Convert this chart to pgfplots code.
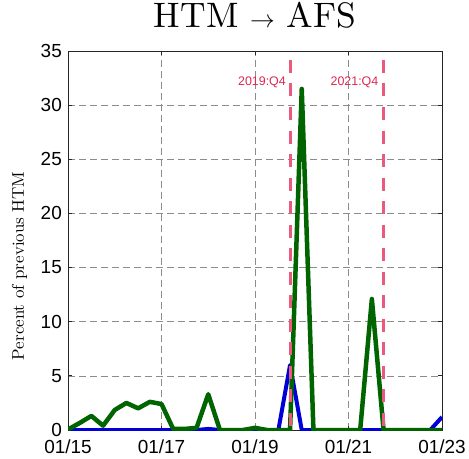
\documentclass[border=0pt]{standalone}
\usepackage{fontspec}
\usepackage{pgfplots}
\pgfplotsset{compat=1.18}
\usetikzlibrary{calc}
\newfontfamily\helv{Liberation Sans}
\newfontfamily\lmten{lmroman10-regular}[Extension=.otf]
\definecolor{mblue}{RGB}{0,0,215}
\definecolor{mgreen}{RGB}{0,100,0}
\definecolor{rline}{RGB}{235,90,125}
\definecolor{rtext}{RGB}{220,40,80}
\begin{document}
\begin{tikzpicture}
\begin{axis}[
  scale only axis, width=374bp, height=379bp,
  xmin=2015, xmax=2023, ymin=0, ymax=35,
  xtick={2015,2017,2019,2021,2023},
  xticklabels={01/15,01/17,01/19,01/21,01/23},
  ytick={0,5,10,15,20,25,30,35},
  tick align=inside, tick pos=both,
  xticklabel pos=bottom, yticklabel pos=left,
  major tick length=4bp,
  grid=major,
  grid style={dash pattern=on 7bp off 4bp, black!45, line width=0.6bp},
  axis line style={black!85, line width=0.8bp},
  tick style={black!85, line width=0.8bp},
  /pgf/number format/assume math mode=true,
  ticklabel style={font=\helv\fontsize{19}{19}\selectfont, inner sep=0pt},
  xticklabel style={yshift=-10bp},
  yticklabel style={xshift=-6bp},
  title={HTM $\rightarrow$ AFS},
  title style={font=\lmten\fontsize{35.5}{35.5}\selectfont, inner sep=0pt, at={(0.5,1)}, anchor=base, yshift=18bp},
  ylabel={Percent of previous HTM},
  ylabel style={font=\lmten\fontsize{17}{17}\selectfont, at={(axis description cs:-0.1297,0.433)}, anchor=center},
]
\addplot[mblue, line width=4bp, line join=round] coordinates {
(2015.00,0) (2015.25,0) (2015.50,0) (2015.75,0) (2016.00,0) (2016.25,0) (2016.50,0) (2016.75,0)
(2017.00,0) (2017.25,0) (2017.50,0) (2017.75,0) (2018.00,0.1) (2018.25,0) (2018.50,0) (2018.75,0)
(2019.00,0.05) (2019.25,0) (2019.50,0) (2019.75,6.0) (2020.00,0) (2020.25,0) (2020.50,0) (2020.75,0)
(2021.00,0) (2021.25,0) (2021.50,0) (2021.75,0) (2022.00,0) (2022.25,0) (2022.50,0) (2022.75,0)
(2023.00,1.2)
};
\addplot[mgreen, line width=4.5bp, line join=round] coordinates {
(2015.00,0.05) (2015.25,0.65) (2015.50,1.3) (2015.75,0.4) (2016.00,1.85) (2016.25,2.5) (2016.50,2.0) (2016.75,2.6)
(2017.00,2.4) (2017.25,0.1) (2017.50,0.1) (2017.75,0.2) (2018.00,3.3) (2018.25,0) (2018.50,0) (2018.75,0)
(2019.00,0.2) (2019.25,0) (2019.50,0) (2019.75,0) (2020.00,31.5) (2020.25,0) (2020.50,0) (2020.75,0)
(2021.00,0) (2021.25,0) (2021.50,12.1) (2021.75,0) (2022.00,0) (2022.25,0) (2022.50,0) (2022.75,0)
(2023.00,0)
};
\addplot[rline, line width=3bp, dash pattern=on 13bp off 10.5bp, dash phase=14.5bp] coordinates {(2019.75,35) (2019.75,0)};
\addplot[rline, line width=3bp, dash pattern=on 13bp off 10.5bp, dash phase=14.5bp] coordinates {(2021.75,35) (2021.75,0)};
\node[anchor=east, text=rtext, font=\helv\fontsize{12.5}{12.5}\selectfont, inner sep=0pt, xshift=-4bp] at (axis cs:2019.75,32.15) {2019:Q4};
\node[anchor=east, text=rtext, font=\helv\fontsize{12.5}{12.5}\selectfont, inner sep=0pt, xshift=-5bp] at (axis cs:2021.75,32.15) {2021:Q4};
\end{axis}
\pgfresetboundingbox
\path ($(current axis.south west)+(-68bp,-28bp)$) rectangle ($(current axis.north east)+(27bp,51bp)$);
\end{tikzpicture}
\end{document}
